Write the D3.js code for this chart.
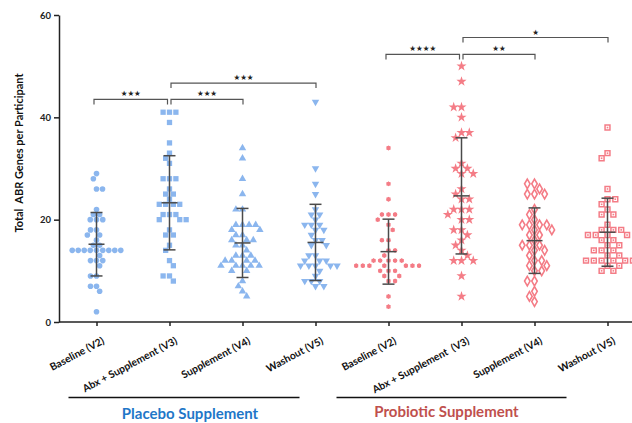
<!DOCTYPE html>
<html>
<head>
<meta charset="utf-8">
<script src="https://cdn.jsdelivr.net/npm/d3@7"></script>
<style>
  body { margin: 0; background: #fff; }
  text { font-family: Lato, "Open Sans", sans-serif; font-weight: bold; }
</style>
</head>
<body>
<svg id="abr_chart" width="632" height="423"></svg>
<script>
// categories along the x axis (placebo 4 visits, then probiotic 4 visits)
const categories = ["Baseline (V2)", "Abx + Supplement (V3)", "Supplement (V4)", "Washout (V5)",
                    "Baseline (V2)", "Abx + Supplement  (V3)", "Supplement (V4)", "Washout (V5)"];

// ABR gene counts per participant
const placeboBaseline = [29,28,26,26,22,21,21,20,20,20,18,18,17,17,16,15,15,14,14,14,14,14,14,14,14,14,13,12,12,12,11,9,9,7,7,6,2];
const placeboAbx = [41,41,41,39,35,33,32,31,28,28,28,26,25,25,24,23,23,23,23,21,21,21,20,20,20,18,17,17,15,14,12,11,9,9,8];
const placeboSupp = [34,32,28,25,22,22,19,19,19,19,18,18,17,17,16,16,16,15,15,14,13,13,13,12,12,12,12,11,11,11,11,11,10,10,8,7,6,5];
const placeboWashout = [43,30,27,25,22,21,21,20,19,19,19,18,18,17,16,16,15,15,13,13,12,12,12,11,11,11,11,11,10,9,8,8,8,7,7];
const probioticBaseline = [34,27,24,21,21,21,20,19,18,16,16,14,14,13,12,12,12,12,12,11,11,11,11,11,11,11,10,10,10,9,9,8,8,5,3];
const probioticAbx = [50,47,42,42,40,37,37,36,31,30,30,29,29,26,25,24,24,22,22,22,21,20,20,18,18,17,16,15,14,13,12,12,12,9,5];
const probioticSupp = [27,27,26,25,25,25,22,21,20,19,19,19,19,18,18,17,17,16,15,15,15,14,14,13,12,12,11,11,10,10,8,8,6,5,4];
const probioticWashout = [38,33,32,26,24,24,23,22,21,21,19,18,18,18,17,17,17,17,16,16,15,15,14,14,14,13,13,12,12,12,12,12,12,11,11,10,10];

// mean and SD shown by the error bars
const means = [15.2, 23.3, 15.45, 15.55, 13.75, 24.65, 15.9, 17.55];
const sds   = [6.2, 9.2, 6.75, 7.45, 6.35, 11.35, 6.4, 6.65];

// significance brackets: from index, to index, label, height (data units)
const bracketFrom   = [0, 1, 1, 4, 5, 5];
const bracketTo     = [1, 2, 3, 5, 6, 7];
const bracketLabel  = ["***", "***", "***", "****", "**", "*"];
const bracketHeight = [43.5, 43.5, 46.7, 52.3, 52.3, 55.6];

const yTicks = [0, 20, 40, 60];
const groupNames = ["Placebo Supplement", "Probiotic Supplement"];

const seriesList = [placeboBaseline, placeboAbx, placeboSupp, placeboWashout,
                    probioticBaseline, probioticAbx, probioticSupp, probioticWashout];

const blue = "#8bb6ee";
const red = "#f47c86";

const svg = d3.select('#abr_chart');
const keys = categories.map((c, i) => i);

const xScale = d3.scalePoint().domain(keys).range([96.5, 607.5]);
const yScale = d3.scaleLinear().domain([0, 60]).range([322, 15]);

// marker drawing for each series, and how much room each marker needs
const sym = d3.symbol();
const markers = [
    g => g.append('circle').attr('r', 2.8).attr('fill', blue),
    g => g.append('path').attr('d', sym.type(d3.symbolSquare).size(28)()).attr('fill', blue),
    g => g.append('path').attr('d', sym.type(d3.symbolTriangle).size(24)()).attr('fill', blue),
    g => g.append('path').attr('d', sym.type(d3.symbolTriangle).size(24)()).attr('fill', blue).attr('transform', 'rotate(180)'),
    g => { g.append('circle').attr('r', 2.2).attr('fill', red);
           g.append('path').attr('d', sym.type(d3.symbolAsterisk).size(14)()).attr('stroke', red).attr('stroke-width', 1).attr('fill', 'none'); },
    g => g.append('path').attr('d', sym.type(d3.symbolStar).size(32)()).attr('fill', red),
    g => g.append('path').attr('d', sym.type(d3.symbolDiamond).size(26)()).attr('fill', '#fff').attr('stroke', red).attr('stroke-width', 1.6),
    g => { g.append('path').attr('d', sym.type(d3.symbolSquare).size(24)()).attr('fill', '#fff').attr('stroke', red).attr('stroke-width', 1.5);
           g.append('rect').attr('x', -0.8).attr('y', -0.8).attr('width', 1.6).attr('height', 1.6).attr('fill', red); }
];
const spacing = [6, 6.4, 6.6, 6.6, 6.6, 7.8, 7.2, 7.8];

// simple beeswarm: each point goes as close to the centre as it can without overlapping
function swarm(values, D) {
    const placed = [];
    let left = 0, right = 0;
    return values.map(v => {
        const y = yScale(v);
        const blocks = [];
        placed.forEach(p => {
            const dy = Math.abs(p.y - y);
            if (dy < D) {
                const h = Math.sqrt(D * D - dy * dy);
                blocks.push([p.dx - h, p.dx + h]);
            }
        });
        const cands = [0];
        blocks.forEach(b => { cands.push(b[0], b[1]); });
        const ok = c => blocks.every(b => c <= b[0] + 1e-6 || c >= b[1] - 1e-6);
        let best = null;
        cands.filter(ok).forEach(c => {
            if (best === null) { best = c; return; }
            const dc = Math.abs(c), db = Math.abs(best);
            if (dc < db - 1e-6) best = c;
            else if (Math.abs(dc - db) < 1e-6 && c !== best) {
                // keep the two sides balanced
                if ((c < 0 && left < right) || (c > 0 && right < left)) best = c;
            }
        });
        if (best < -1e-6) left++; else if (best > 1e-6) right++;
        const p = { value: v, y: y, dx: best };
        placed.push(p);
        return p;
    });
}

// points
seriesList.forEach((values, k) => {
    const cx = xScale(k);
    svg.append('g').selectAll('g')
        .data(swarm(values, spacing[k]))
        .enter()
        .append('g')
        .attr('transform', d => `translate(${cx + d.dx},${d.y})`)
        .each(function() { markers[k](d3.select(this)); });
});

// error bars: mean +/- SD
const eb = svg.append('g').attr('stroke', '#4a4a4a').attr('stroke-width', 1.5);
keys.forEach(k => {
    const cx = xScale(k);
    const lo = yScale(means[k] - sds[k]);
    const hi = yScale(means[k] + sds[k]);
    const m = yScale(means[k]);
    eb.append('line').attr('x1', cx).attr('x2', cx).attr('y1', lo).attr('y2', hi);
    eb.append('line').attr('x1', cx - 6).attr('x2', cx + 6).attr('y1', lo).attr('y2', lo);
    eb.append('line').attr('x1', cx - 6).attr('x2', cx + 6).attr('y1', hi).attr('y2', hi);
    eb.append('line').attr('x1', cx - 8).attr('x2', cx + 8).attr('y1', m).attr('y2', m);
});

// axes
const yAxis = d3.axisLeft(yScale).tickValues(yTicks).tickSize(5).tickSizeOuter(0);
const gy = svg.append('g').attr('transform', 'translate(59,0)').call(yAxis);
gy.select('.domain').attr('stroke', '#222').attr('stroke-width', 1.5);
gy.selectAll('.tick line').attr('stroke', '#222').attr('stroke-width', 1.5);
gy.selectAll('.tick text').attr('font-size', '9.5px').attr('fill', '#222').attr('x', -8);

const xAxis = d3.axisBottom(xScale).tickSize(4).tickFormat(k => categories[k]);
const gx = svg.append('g').attr('transform', 'translate(0,322)').call(xAxis);
gx.select('.domain').remove();
gx.append('line').attr('x1', 59).attr('x2', 632).attr('y1', 0).attr('y2', 0)
    .attr('stroke', '#222').attr('stroke-width', 1.5);
gx.selectAll('.tick line').attr('stroke', '#222').attr('stroke-width', 1.5);
gx.selectAll('.tick text')
    .attr('font-size', '10.3px')
    .attr('fill', '#111')
    .style('white-space', 'pre')
    .style('text-anchor', 'end')
    .attr('x', 0).attr('y', 0).attr('dy', 0)
    .attr('transform', 'translate(8,21) rotate(-28)');

// axis title
svg.append('text')
    .attr('transform', 'rotate(-90)')
    .attr('x', -153)
    .attr('y', 23)
    .attr('text-anchor', 'middle')
    .attr('font-size', '11px')
    .attr('fill', '#111')
    .style('white-space', 'pre')
    .text('Total  ABR Genes per Participant');

// significance brackets
const br = svg.append('g');
bracketLabel.forEach((lab, i) => {
    const a = bracketFrom[i], b = bracketTo[i];
    const sharedLeft = bracketTo.includes(a);
    const sharedRight = bracketFrom.includes(b);
    const x1 = xScale(a) + (sharedLeft ? 1.5 : -2.5);
    const x2 = xScale(b) + (sharedRight ? -2 : 0.5);
    const y = yScale(bracketHeight[i]);
    br.append('path')
        .attr('d', `M${x1},${y + 5}V${y}H${x2}V${y + 5}`)
        .attr('fill', 'none').attr('stroke', '#555').attr('stroke-width', 1.2);
    br.append('text')
        .attr('x', (x1 + x2) / 2)
        .attr('y', y - 3)
        .attr('text-anchor', 'middle')
        .style('font-family', '"DejaVu Sans", sans-serif')
        .attr('font-size', '7.5px')
        .attr('fill', '#222')
        .text(lab.replace(/\*/g, '\u2605'));
});

// group lines and labels under the axis
const groupColor = ['#1f77c8', '#c0504d'];
const groupSpan = [[xScale(0) - 28, xScale(3) - 16], [xScale(4) - 52, xScale(7) - 41]];
const groupTextShift = [6, -5];
groupSpan.forEach((span, i) => {
    svg.append('line').attr('x1', span[0]).attr('x2', span[1]).attr('y1', 397.5).attr('y2', 397.5)
        .attr('stroke', '#111').attr('stroke-width', 1.6);
    svg.append('text')
        .attr('x', (span[0] + span[1]) / 2 + groupTextShift[i])
        .attr('y', i === 0 ? 419 : 417)
        .attr('text-anchor', 'middle')
        .attr('font-size', '15px')
        .attr('fill', groupColor[i])
        .text(groupNames[i]);
});
</script>
</body>
</html>
